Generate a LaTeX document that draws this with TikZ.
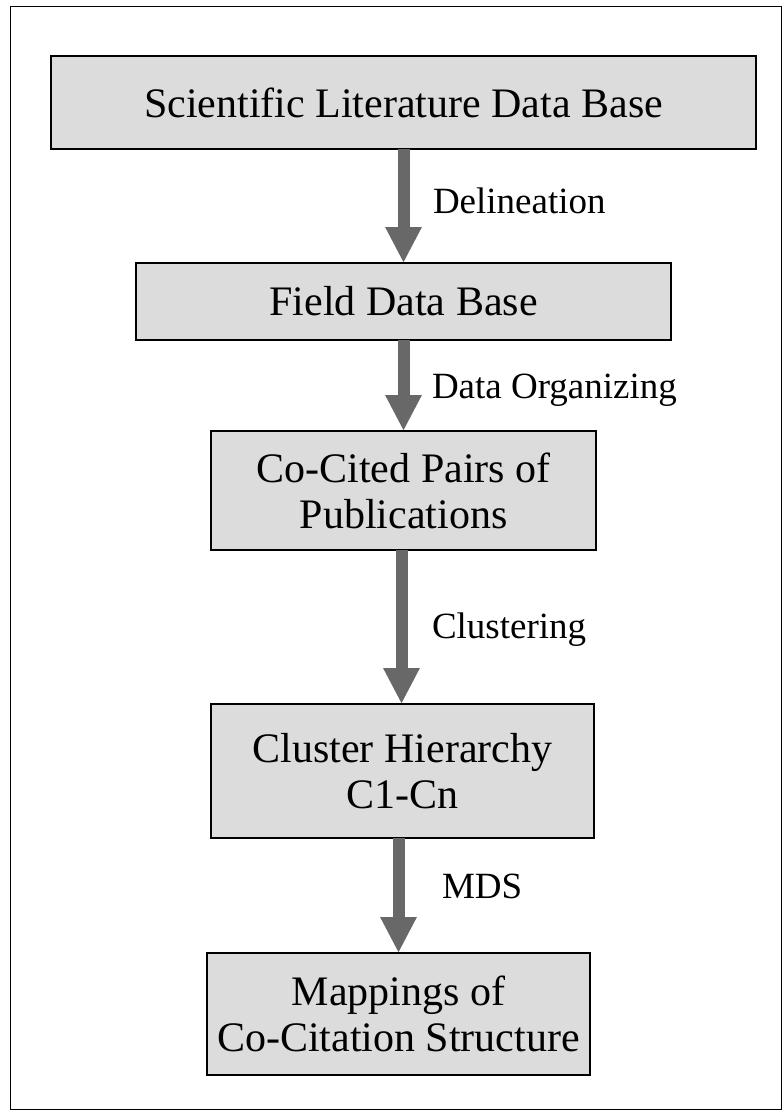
\documentclass[tikz,border=0pt]{standalone}
\usepackage{fontspec}
\setmainfont{Liberation Serif}
\usetikzlibrary{arrows.meta}
\definecolor{boxfill}{RGB}{220,220,220}
\definecolor{flowgray}{RGB}{104,104,104}
\begin{document}
\begin{tikzpicture}[x=1pt,y=-1pt,
  stage/.style={draw=black, line width=2.5pt, fill=boxfill, inner sep=0pt,
    outer sep=0pt, align=center, font=\fontsize{42}{46}\selectfont},
  flow/.style={draw=flowgray, line width=12pt,
    -{Triangle[width=34pt,length=36pt,fill=flowgray]}},
  steplabel/.style={anchor=base west, inner sep=0pt, outer sep=0pt,
    font=\fontsize{37}{40}\selectfont}]
  % page and outer frame
  \useasboundingbox (0,0) rectangle (783,1111);
  \draw[line width=1pt] (10,6) rectangle (781,1109);

  % process stages
  \node[stage, minimum width=705pt, minimum height=93pt] (b1) at (403.5,102.5)
    {Scientific Literature Data Base};
  \node[stage, minimum width=535pt, minimum height=77pt] (b2) at (403.5,301.5)
    {Field Data Base};
  \node[stage, minimum width=385pt, minimum height=119pt] (b3) at (403.5,490.5)
    {Co-Cited Pairs of\\Publications};
  \node[stage, minimum width=383pt, minimum height=134pt] (b4) at (402.5,771)
    {Cluster Hierarchy\\C1-Cn};
  \node[stage, minimum width=383pt, minimum height=122pt] (b5) at (398.5,1014)
    {Mappings of\\Co-Citation Structure};

  % connectors
  \draw[flow] (b1.south) -- (b2.north);
  \draw[flow] (b2.south) -- (b3.north);
  \draw[flow] ([xshift=-2pt]b3.south) -- ([xshift=-2pt]b3.south |- b4.north);
  \draw[flow] (b5.north |- b4.south) -- (b5.north);

  % step labels
  \node[steplabel] (l1) at (433,213) {Delineation};
  \node[steplabel] (l2) at (432,398) {Data Organizing};
  \node[steplabel] (l3) at (432,638) {Clustering};
  \node[steplabel] (l4) at (442,898) {MDS};
\end{tikzpicture}
\end{document}
